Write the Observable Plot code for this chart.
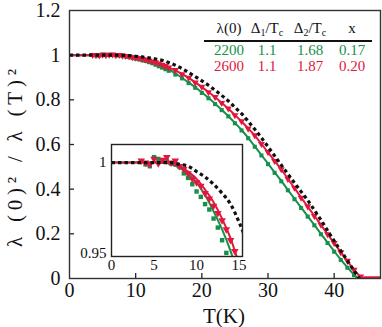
<!DOCTYPE html>
<html><head><meta charset="utf-8">
<script src="https://cdn.jsdelivr.net/npm/d3@7"></script>
<script src="https://cdn.jsdelivr.net/npm/@observablehq/plot@0.6"></script>
<style>
html,body{margin:0;padding:0;background:#fff;}
#wrap{position:relative;width:382px;height:327px;overflow:hidden;font-family:'Liberation Serif','DejaVu Serif',serif;}
#wrap svg{display:block;}
#wrap svg text{font-family:'Liberation Serif','DejaVu Serif',serif;}
#inset{position:absolute;left:70px;top:140px;}
</style></head><body><div id="wrap"><div id="main"></div><div id="inset"></div></div>
<script>
const FONT = "'Liberation Serif', 'DejaVu Serif', serif";
const GREEN = "#17904b", RED = "#e2173d", BLACK = "#111";

// ---- data ----
const blackT = [0,2,4,6,7,8,9,10,11,12,13,14,15,16,17,18,19,20,21,22,23,24,25,26,27,28,29,30,31,32,33,34,35,36,37,38,39,40,41,42,43,43.8];
const blackV = [1,1,1,1,1,0.999,0.998,0.995,0.992,0.988,0.983,0.977,0.967,0.955,0.940,0.922,0.904,0.885,0.865,0.843,0.820,0.795,0.767,0.738,0.704,0.668,0.630,0.590,0.549,0.508,0.468,0.428,0.389,0.350,0.306,0.262,0.215,0.168,0.124,0.080,0.035,0];

const greenFitT = [0,2,4,6,7,8,9,10,11,12,13,14,15,16,17,18,19,20,21,22,23,24,25,26,27,28,29,30,31,32,33,34,35,36,37,38,39,40,41,42,43,43.6];
const greenFitV = [1,1,1,1,0.999,0.997,0.994,0.989,0.982,0.973,0.963,0.951,0.936,0.918,0.899,0.878,0.856,0.833,0.809,0.783,0.756,0.727,0.697,0.665,0.630,0.592,0.553,0.514,0.475,0.437,0.397,0.357,0.318,0.279,0.240,0.200,0.161,0.122,0.085,0.050,0.017,0];

const redFitT = [0,2,4,6,7,8,9,10,11,12,13,14,15,16,17,18,19,20,21,22,23,24,25,26,27,28,29,30,31,32,33,34,35,36,37,38,39,40,41,42,43,44,44.4,47];
const redFitV = [1,1,1,1,0.9995,0.998,0.995,0.991,0.985,0.978,0.969,0.958,0.944,0.932,0.916,0.898,0.878,0.857,0.835,0.812,0.787,0.760,0.732,0.703,0.672,0.640,0.603,0.565,0.527,0.488,0.447,0.405,0.363,0.322,0.281,0.240,0.199,0.158,0.118,0.078,0.040,0.008,0,0];

const redDataT = [3.5,4,4.5,5,5.5,6,6.5,7,7.5,8,8.5,9,9.5,10,10.5,11,11.5,12,12.5,13,13.5,14,14.5,15,16,17,18,19,20,21,22,23,24,25,26,27,28,29,30,31,32,33,34,35,36,37,38,39,40,41,42,43,44,44.5,45,45.5,46,46.5,47];
const redDataV = [1.001,1.000,0.999,1.002,0.9995,1.0015,1.003,1.000,1.001,0.998,0.9965,0.994,0.991,0.989,0.987,0.983,0.980,0.976,0.972,0.968,0.963,0.957,0.951,0.945,0.933,0.915,0.899,0.877,0.858,0.834,0.813,0.786,0.761,0.731,0.704,0.671,0.641,0.602,0.566,0.526,0.489,0.446,0.406,0.362,0.323,0.280,0.241,0.198,0.159,0.117,0.079,0.039,0.009,0,0,0,0,0,0];

const greenDataT = [4,4.5,5,5.5,6,6.5,7,7.5,8,8.5,9,9.5,10,10.5,11,11.5,12,12.5,13,13.5,14,14.5,15,16,17,18,19,20,21,22,23,24,25,26,27,28,29,30,31,32,33,34,35,36,37,38,39,40,41,42,43,43.5];
const greenDataV = [0.999,0.998,1.003,1.002,1.0005,1.001,0.9995,0.999,0.9975,0.994,0.9915,0.988,0.984,0.981,0.977,0.974,0.969,0.964,0.957,0.950,0.944,0.937,0.930,0.913,0.896,0.875,0.854,0.831,0.807,0.781,0.754,0.726,0.695,0.663,0.628,0.590,0.551,0.512,0.473,0.435,0.395,0.355,0.316,0.277,0.238,0.198,0.159,0.120,0.083,0.048,0.015,0];

const xTicks = [0,10,20,30,40];
const xTickLabels = ["0","10","20","30","40"];
const yTicks = [0,0.2,0.4,0.6,0.8,1,1.2];
const yTickLabels = ["0","0.2","0.4","0.6","0.8","1","1.2"];
const insetXTicks = [0,5,10,15];
const insetXTickLabels = ["0","5","10","15"];
const insetYTicks = [0.95,1];
const insetYTickLabels = ["0.95","1"];

const xLabel = "T(K)";
const yLabel = "λ (0)² / λ (T)²";

const tableLambda0 = ["2200","2600"];
const tableDelta1 = ["1.1","1.1"];
const tableDelta2 = ["1.68","1.87"];
const tableX = ["0.17","0.20"];
const tableColors = [GREEN, RED];

// ---- build ----
const pts = (T, V) => T.map((t, i) => ({T: t, v: V[i]}));
const black = pts(blackT, blackV);
const greenFit = pts(greenFitT, greenFitV);
const redFit = pts(redFitT, redFitV);
const redData = pts(redDataT, redDataV);
const greenData = pts(greenDataT, greenDataV);

function curveMarks(r) {
  return [
    Plot.dot(greenData, {x: "T", y: "v", symbol: "square", r: r, fill: GREEN, stroke: "none", clip: true}),
    Plot.line(greenFit, {x: "T", y: "v", stroke: GREEN, strokeWidth: 2, curve: "monotone-x", clip: true}),
    Plot.dot(redData, {x: "T", y: "v", symbol: "triangle", rotate: 180, r: r + 0.3, fill: RED, stroke: "none", clip: true}),
    Plot.line(redFit, {x: "T", y: "v", stroke: RED, strokeWidth: 2, curve: "monotone-x", clip: true}),
    Plot.line(black, {x: "T", y: "v", stroke: BLACK, strokeWidth: 3.2, strokeDasharray: "3.5,3", strokeLinecap: "butt", curve: "monotone-x", clip: true})
  ];
}

const main = Plot.plot({
  width: 382, height: 327,
  marginLeft: 69, marginRight: 2, marginTop: 10, marginBottom: 49,
  style: {fontFamily: FONT, fontSize: "20px", background: "white", color: "#111"},
  x: {domain: [0, 47], ticks: xTicks, tickFormat: d => xTickLabels[xTicks.indexOf(d)], tickSize: 0, tickPadding: 4, label: null},
  y: {domain: [0, 1.2], ticks: yTicks, tickFormat: d => yTickLabels[yTicks.indexOf(d)], tickSize: 0, tickPadding: 9, label: null},
  marks: [
    Plot.ruleX(xTicks.slice(1), {y1: 0, y2: 0.022, stroke: "#222", strokeWidth: 1.3}),
    Plot.ruleY(yTicks.slice(1, -1), {x1: 0, x2: 0.75, stroke: "#222", strokeWidth: 1.3}),
    ...curveMarks(2.3),
    Plot.frame({stroke: "#333", strokeWidth: 1.4})
  ]
});
document.getElementById("main").appendChild(main);

const svg = d3.select(main);
// axis titles
svg.append("text")
  .attr("transform", "translate(17,158) rotate(-90)")
  .attr("text-anchor", "middle").attr("dominant-baseline", "middle")
  .attr("font-family", FONT).attr("font-size", 21).attr("fill", "#111")
  .attr("textLength", 178).attr("lengthAdjust", "spacing")
  .text(yLabel);
svg.append("text")
  .attr("x", 224).attr("y", 323)
  .attr("text-anchor", "middle")
  .attr("font-family", FONT).attr("font-size", 21).attr("fill", "#111")
  .text(xLabel);

// table
const tbl = svg.append("g").attr("font-family", FONT).attr("font-size", 15).attr("text-anchor", "middle");
const cols = [229, 267, 310, 352];
const head = [[["λ(0)", 0]], [["Δ", 0], ["1", 1], ["/T", 0], ["c", 1]], [["Δ", 0], ["2", 1], ["/T", 0], ["c", 1]], [["x", 0]]];
head.forEach((parts, i) => {
  const t = tbl.append("text").attr("x", cols[i]).attr("y", 33).attr("fill", "#111");
  parts.forEach(([s, sub]) => {
    const ts = t.append("tspan").text(s);
    if (sub) ts.attr("font-size", 10).attr("dy", 3); else if (t.node().childNodes.length > 1) ts.attr("dy", -3);
  });
});
tbl.append("line").attr("x1", 204).attr("x2", 372).attr("y1", 41).attr("y2", 41).attr("stroke", "#111").attr("stroke-width", 2);
[tableLambda0, tableDelta1, tableDelta2, tableX].forEach((col, i) => {
  col.forEach((s, r) => {
    tbl.append("text").attr("x", cols[i]).attr("y", 55 + r * 16).attr("fill", tableColors[r]).text(s);
  });
});

// inset
const inset = Plot.plot({
  width: 184, height: 141,
  marginLeft: 41, marginRight: 12, marginTop: 4, marginBottom: 25,
  style: {fontFamily: FONT, fontSize: "15px", background: "transparent", color: "#111"},
  x: {domain: [0, 15.4], ticks: insetXTicks, tickFormat: d => insetXTickLabels[insetXTicks.indexOf(d)], tickSize: 0, tickPadding: 3, label: null},
  y: {domain: [0.948, 1.01], ticks: insetYTicks, tickFormat: d => insetYTickLabels[insetYTicks.indexOf(d)], tickSize: 0, tickPadding: 5, label: null},
  marks: [
    Plot.frame({fill: "white"}),
    ...curveMarks(2.5),
    Plot.frame({stroke: "#222", strokeWidth: 1.4})
  ]
});
document.getElementById("inset").appendChild(inset);
</script>
</body></html>
